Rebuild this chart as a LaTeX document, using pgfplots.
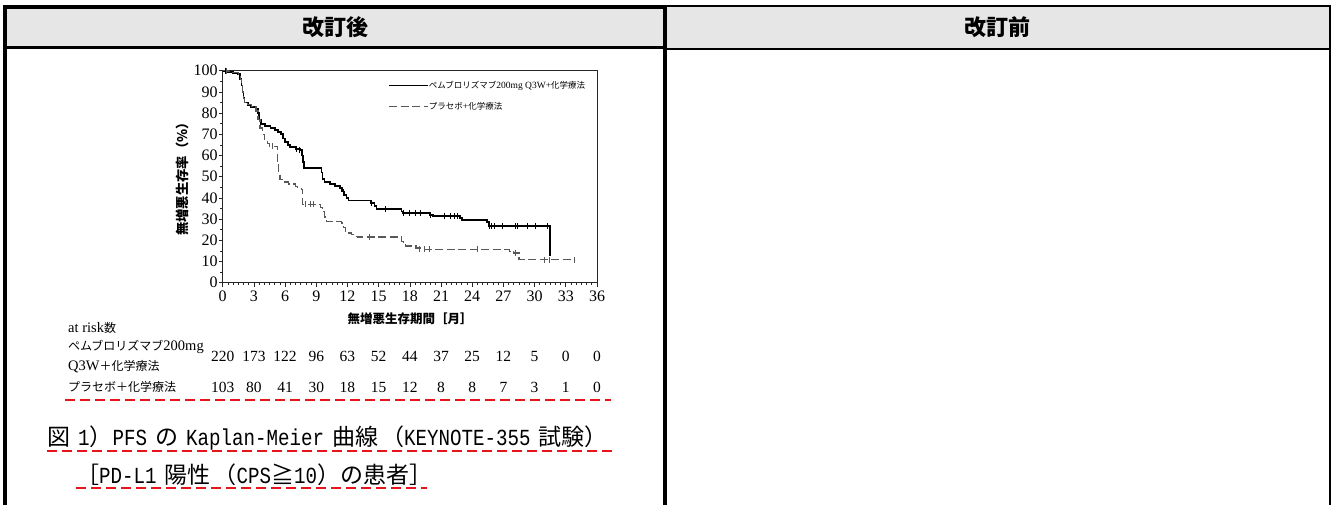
\documentclass[border=0pt]{standalone}
\usepackage{fontspec}
\usepackage{pgfplots}
\pgfplotsset{compat=1.18}
\setmainfont{Liberation Serif}
\newfontfamily\cjk{Noto Sans CJK JP}
\newfontfamily\mono{Liberation Mono}[FakeStretch=0.833]
\definecolor{hdr}{HTML}{E6E6E6}
\definecolor{redd}{HTML}{E8141B}
\newcommand{\fs}[1]{\fontsize{#1}{#1}\selectfont}
\begin{document}
\begin{tikzpicture}[x=1pt,y=1pt]
\path[use as bounding box] (0,0) rectangle (1332,504);
% ---- table frame ----
\fill[hdr] (5,496) rectangle (665,456);
\fill[hdr] (665,498) rectangle (1330,455);
\draw[line width=2pt] (665,498) -- (1330,498);
\draw[line width=2.5pt] (1330,499) -- (1330,-2);
\draw[line width=2.5pt] (665,455) -- (1330,455);
\draw[line width=3pt] (5,456) -- (665,456);
\draw[line width=4pt] (5,-5) -- (5,497) -- (665,497) -- (665,-5);
\node[font=\cjk\bfseries\fs{22}] at (335,477) {改訂後};
\node[font=\cjk\bfseries\fs{22}] at (997,477) {改訂前};
% ---- KM plot ----
\begin{axis}[
  at={(222.7pt,221.3pt)}, anchor=south west,
  scale only axis, width=374.3pt, height=212pt,
  xmin=0, xmax=36, ymin=0, ymax=100,
  xtick={0,3,...,36}, ytick={0,10,...,100},
  minor x tick num=5, minor y tick num=1,
  tick align=outside, tick pos=left,
  major tick length=4pt, minor tick length=2.5pt,
  axis line style={line width=0.9pt, black!85},
  every tick/.style={black!85, line width=0.7pt},
  tick label style={font=\fs{16}},
  /pgf/number format/assume math mode=true,
  xticklabel style={inner sep=1pt, yshift=-3pt},
  yticklabel style={inner sep=1pt},
  legend style={at={(0.4416,0.952)}, anchor=north west, draw=none, fill=none,
    inner sep=0pt, row sep=12pt, nodes={inner sep=0pt, anchor=west}},
  legend cell align=left,
  legend image code/.code={\draw[#1] (0pt,0pt) -- (30pt,0pt); \path (0pt,0pt) -- (39pt,0pt);},
]
\addplot[const plot, line width=1.8pt, black] table {
x y
0 100
0.5 99.5
1.0 99
1.5 98.5
1.7 96
1.8 93
1.9 90
2.0 87
2.1 85
2.4 84
2.7 83
3.2 82
3.4 80
3.5 77
3.7 75
4.1 74
4.6 73
5.0 72
5.3 71
5.6 70
5.8 68
6.0 66.5
6.3 65
6.5 64
7.0 63
7.4 62.5
7.6 60
7.7 57
7.8 54
9.5 52
9.6 49
9.8 47.5
10.3 46.5
10.8 45.5
11.3 44.5
11.5 43
11.7 41.5
11.9 40
12.1 38.8
14.3 37.5
14.6 36
14.8 34.8
17.2 33.6
17.3 32.9
19.9 32
20.2 31.3
22.8 30.5
23.0 29.5
25.4 28.5
25.6 26.6
31.5 12.7
};
\addlegendentry{{\cjk\fs{8.5}ペムブロリズマブ}{\fs{9.5}200mg Q3W+}{\cjk\fs{8.5}化学療法}}
\addplot[const plot, line width=1.3pt, black!65, dash pattern=on 8pt off 3.5pt] table {
x y
0 100
0.5 99.5
1.0 99
1.5 98.5
1.7 96
1.8 93
1.9 90
2.0 87
2.1 85
2.4 84
2.8 83
3.2 81
3.4 77
3.6 73
3.8 70
4.0 67.5
4.3 65.5
4.5 64.3
5.3 56
5.4 52
5.5 48.6
5.8 47.5
6.3 46.5
7.0 45.5
7.2 44.5
7.6 43.8
7.7 37
9.4 35.4
9.6 33.6
9.8 31
10.0 28.9
11.4 28.1
11.6 26
11.8 24.2
12.0 23.4
12.4 22.6
12.8 21.8
13.0 21.5
17.2 19.5
17.4 17.8
17.6 17.3
18.6 16.4
19.0 15.8
27.6 14.8
28.0 14.0
28.5 10.8
33.8 10.8
};
\addlegendentry{{\cjk\fs{8.5}プラセボ}{\fs{9.5}+}{\cjk\fs{8.5}化学療法}}
% censor marks
\addplot[only marks, mark=|, mark size=3pt, mark options={line width=1pt, black}, forget plot] table {
x y
0.3 100
7.1 63
7.4 62.5
11.6 43
14.3 37.5
15.7 34.8
17.4 32.9
18.0 32.9
18.5 32.9
19.0 32.9
20.0 32
21.3 31.3
21.9 31.3
22.3 31.3
22.6 31.3
25.7 26.6
25.9 26.6
26.1 26.6
26.9 26.6
28.2 26.6
28.4 26.6
29.3 26.6
30.1 26.6
31.2 26.6
};
\addplot[only marks, mark=|, mark size=3pt, mark options={line width=0.9pt, black!65}, forget plot] table {
x y
0.4 100
4.8 64.3
8.0 37
8.4 37
8.7 37
14.1 21.5
18.9 15.8
19.4 15.8
19.9 15.8
24.5 15.8
28.2 14.0
30.9 10.8
31.4 10.8
33.8 10.8
};
\end{axis}
\node[rotate=90, font=\cjk\bfseries\fs{13.3}] at (182,328) {無増悪生存率（\%）};
\node[font=\cjk\bfseries\fs{12.5}] at (410,185) {無増悪生存期間［月］};
% ---- at risk table ----
\node[anchor=west, inner sep=0pt] at (68,176) {\fs{14.5}at risk\cjk\fs{12}数};
\node[anchor=west, inner sep=0pt] at (68,157) {{\cjk\fs{12}ペムブロリズマブ}\fs{14.5}200mg};
\node[anchor=west, inner sep=0pt] at (68,137) {\fs{14.5}Q3W{\cjk\fs{12}＋化学療法}};
\node[anchor=west, inner sep=0pt] at (68,117) {\cjk\fs{12}プラセボ＋化学療法};
\foreach \v [count=\i from 0] in {220,173,122,96,63,52,44,37,25,12,5,0,0}
  \node[font=\fs{15.5}, inner sep=0pt] at ({222.7+\i*31.19},148) {\v};
\foreach \v [count=\i from 0] in {103,80,41,30,18,15,12,8,8,7,3,1,0}
  \node[font=\fs{15.5}, inner sep=0pt] at ({222.7+\i*31.19},117) {\v};
\draw[redd, line width=2pt, dash pattern=on 10pt off 5pt] (65,104) -- (611,104);
% ---- caption ----
\node[anchor=west, inner sep=0pt] at (47,66) {\fs{23}{\cjk 図}\hspace{8pt}{\mono 1}{\cjk ）}{\mono PFS}\hspace{8pt}{\cjk の}\hspace{8pt}{\mono Kaplan-Meier}\hspace{8pt}{\cjk 曲線}\hspace{3pt}{\cjk （}{\mono KEYNOTE-355}\hspace{8pt}{\cjk 試験）}};
\draw[redd, line width=2pt, dash pattern=on 10pt off 5pt] (47,53) -- (613,53);
\node[anchor=west, inner sep=0pt] at (76,29) {\fs{23}{\cjk ［}{\mono PD-L1}\hspace{8pt}{\cjk 陽性}\hspace{3pt}{\cjk （}{\mono CPS}{\cjk ≧}{\mono 10}{\cjk ）の患者］}};
\draw[redd, line width=2pt, dash pattern=on 10pt off 5pt] (76,16) -- (427,16);
\end{tikzpicture}
\end{document}
